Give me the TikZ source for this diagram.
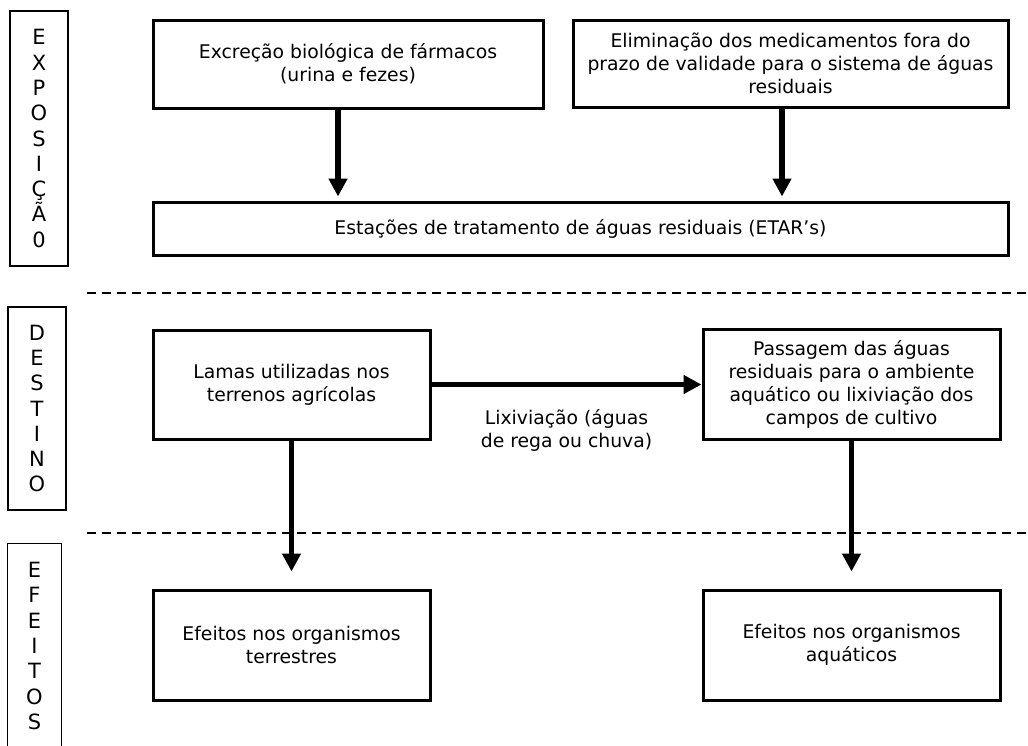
\documentclass[tikz,border=0pt]{standalone}
\usepackage{fontspec}
\setmainfont{DejaVu Sans}
\usetikzlibrary{positioning, arrows.meta}

\begin{document}
\begin{tikzpicture}[x=1pt, y=-1pt,
    caixa/.style={draw, line width=3pt, align=center, inner sep=0pt,
        font=\fontsize{18.8}{23}\selectfont},
    fase/.style={align=center, inner sep=0pt, line width=1.2pt,
        font=\fontsize{21}{25.3}\selectfont},
    seta/.style={line width=5.5pt, -{Triangle[length=18pt, width=18pt]}},
    divisoria/.style={line width=1.2pt, dash pattern=on 9pt off 6pt}]
    \useasboundingbox (0,0) rectangle (1028,745);

    % Fases
    \node (expo) [fase, draw, minimum width=58, minimum height=255] at (39,138.5)
        {E\\X\\P\\O\\S\\I\\Ç\\Ã\\0};
    \node (dest) [fase, draw, minimum width=58, minimum height=203] at (37,408.5)
        {D\\E\\S\\T\\I\\N\\O};
    \node (efei) [fase, minimum width=53, minimum height=204] at (34.5,646)
        {E\\F\\E\\I\\T\\O\\S};
    \draw[line width=1.2pt] (efei.south west) |- (efei.north east) -- (efei.south east);

    % Separadores
    \draw[divisoria] (87,293) -- (1028,293);
    \draw[divisoria] (87,533) -- (1028,533);

    % Exposicao
    \node (excr) [caixa, minimum width=390, minimum height=88] at (348,64)
        {Excreção biológica de fármacos\\(urina e fezes)};
    \node (elim) [caixa, minimum width=435, minimum height=87] at (790.5,63.5)
        {Eliminação dos medicamentos fora do\\prazo de validade para o sistema de águas\\residuais};
    \node (etar) [caixa, minimum width=855, minimum height=53] at (580.5,228.5)
        {Estações de tratamento de águas residuais (ETAR’s)};

    % Destino
    \node (lamas) [caixa, minimum width=277, minimum height=109] at (291.5,384.5)
        {Lamas utilizadas nos\\terrenos agrícolas};
    \node (passa) [caixa, minimum width=297, minimum height=110] at (851.5,384.5)
        {Passagem das águas\\residuais para o ambiente\\aquático ou lixiviação dos\\campos de cultivo};

    % Efeitos
    \node (terr) [caixa, minimum width=277, minimum height=110] at (291.5,645)
        {Efeitos nos organismos\\terrestres};
    \node (aqua) [caixa, minimum width=297, minimum height=110] at (851.5,645)
        {Efeitos nos organismos\\aquáticos};

    % Setas
    \draw[seta, shorten >=4pt] ([xshift=-10pt]excr.south) -- ([xshift=-10pt]excr.south |- etar.north);
    \draw[seta, shorten >=4pt] ([xshift=-8.5pt]elim.south) -- ([xshift=-8.5pt]elim.south |- etar.north);
    \draw[seta] (lamas.east) -- node[below=22pt, align=center, inner sep=0pt,
        font=\fontsize{18.8}{23}\selectfont] (lixi) {Lixiviação (águas\\de rega ou chuva)}
        (lamas.east -| passa.west);
    \draw[seta, shorten >=17pt] (lamas.south) -- (terr.north);
    \draw[seta, shorten >=17pt] (passa.south) -- (aqua.north);
\end{tikzpicture}
\end{document}
